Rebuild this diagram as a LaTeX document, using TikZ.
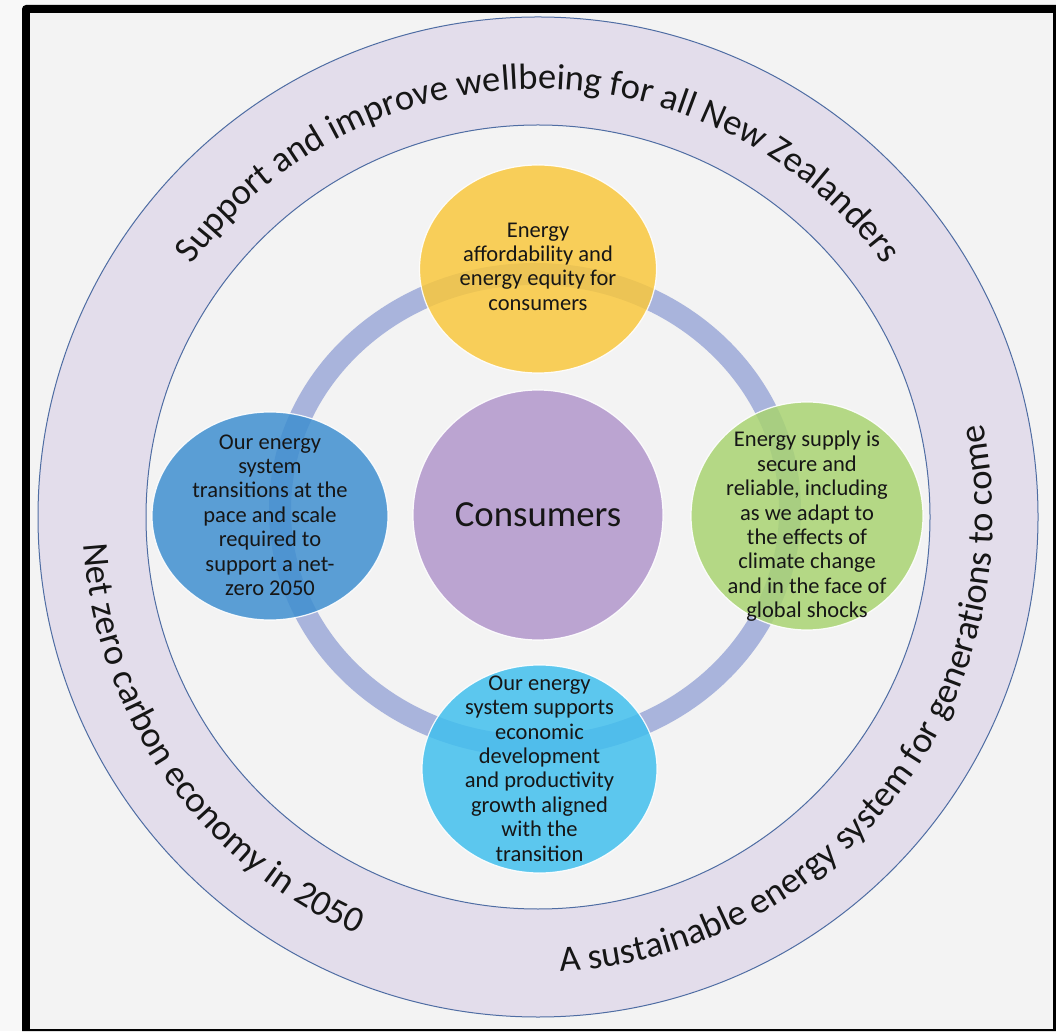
\documentclass[tikz,border=0pt]{standalone}
\usepackage{fontspec}
\setmainfont{Carlito}
\usetikzlibrary{shapes.geometric,decorations.text}
\definecolor{pagebg}{HTML}{F3F3F3}
\definecolor{outerbg}{HTML}{F8F8F8}
\definecolor{bandfill}{HTML}{E3DDEB}
\definecolor{bandline}{HTML}{4F6DA3}
\definecolor{ringcol}{HTML}{A9B4DC}
\definecolor{ycol}{HTML}{FAC83C}
\definecolor{bcol}{HTML}{3D8ED0}
\definecolor{gcol}{HTML}{A8D470}
\definecolor{ccol}{HTML}{40BFEE}
\definecolor{pcol}{HTML}{B196CB}
\definecolor{txtcol}{HTML}{161616}
\begin{document}
\begin{tikzpicture}[x=1pt,y=1pt,
  blob/.style={ellipse, inner sep=0pt, draw=white, line width=1.2pt, fill opacity=0.84, draw opacity=0.9},
  circtxt/.style={align=center, inner sep=0pt, text=txtcol, font=\fontsize{22.5}{24.4}\selectfont},
  ringtxt/.style={decorate, decoration={text along path, text align=center,
     text={|\fontsize{36.5}{40}\selectfont\color{txtcol}|#1}}}
]
\useasboundingbox (0,0) rectangle (1056,1031);
\fill[outerbg] (0,0) rectangle (1056,1031);
% frame
\fill[black] (22,0) -- (22,1022) arc[start angle=180,end angle=90,radius=4] -- (1056,1026) -- (1056,0) -- cycle;
\fill[pagebg] (30,2) rectangle (1053,1018);
\coordinate (C) at (538,514);
% outer band
\path[fill=bandfill, draw=bandline, line width=1pt, even odd rule] (C) circle[radius=500] (C) circle[radius=392];
% ring texts
\path[ringtxt={Support and improve wellbeing for all New Zealanders}]
  (C) ++(168:428) arc[start angle=168, end angle=12, radius=428];
\path[ringtxt={Net zero carbon economy in 2050}]
  (C) ++(150:455) arc[start angle=150, end angle=280, radius=455];
\path[ringtxt={A sustainable energy system for generations to come}]
  (C) ++(257.3:455) arc[start angle=257.3, end angle=387.3, radius=455];
% connecting ring
\coordinate (RC) at (535,521);
\draw[ringcol, line width=22pt] (RC) ellipse[x radius=255, y radius=236];
% circles
\node[blob, fill=pcol, minimum width=250, minimum height=250] (cons) at (538,516) {};
\node[blob, fill=ycol, minimum width=237, minimum height=208] (top) at (538,762) {};
\node[blob, fill=bcol, minimum width=236, minimum height=208] (left) at (270,515) {};
\node[blob, fill=gcol, minimum width=232, minimum height=228] (right) at (807,515) {};
\node[blob, fill=ccol, minimum width=235, minimum height=208] (bottom) at (539.5,262) {};
% texts
\node[text=txtcol, font=\fontsize{36.8}{40}\selectfont] (constxt) at (cons.center) {Consumers};
\node[circtxt] (toptxt) at ([yshift=2.5]top.center) {Energy\\affordability and\\energy equity for\\consumers};
\node[circtxt] (lefttxt) at ([yshift=1]left.center) {Our energy\\system\\transitions at the\\pace and scale\\required to\\support a net-\\zero 2050};
\node[circtxt] (righttxt) at ([yshift=-10.5]right.center) {Energy supply is\\secure and\\reliable, including\\as we adapt to\\the effects of\\climate change\\and in the face of\\global shocks};
\node[circtxt] (bottomtxt) at ([yshift=0.5]bottom.center) {Our energy\\system supports\\economic\\development\\and productivity\\growth aligned\\with the\\transition};
\end{tikzpicture}
\end{document}
